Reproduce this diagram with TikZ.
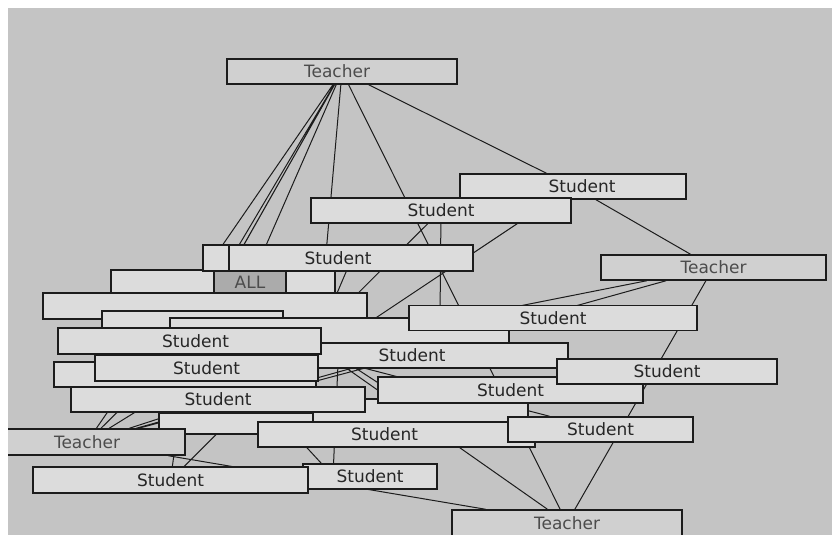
\documentclass[tikz,border=0pt]{standalone}
\usepackage{fontspec}
\setmainfont{DejaVu Sans}
\usetikzlibrary{backgrounds}

\definecolor{canvas}{HTML}{C4C4C4}
\definecolor{pale}{HTML}{DCDCDC}
\definecolor{dim}{HTML}{D0D0D0}
\definecolor{grpfill}{HTML}{ABABAB}
\definecolor{ink}{HTML}{1C1C1C}

\tikzset{
  box/.style={draw=ink,line width=1.5pt,fill=pale,inner sep=0pt,
    font=\fontsize{17}{20}\selectfont,text=black!85},
  dims/.style 2 args={minimum width=#1pt,minimum height=#2pt},
  student/.style={box},
  blank/.style={box},
  teacher/.style={box,fill=dim,text=black!70},
  group/.style={box,fill=grpfill,text=black!70},
  link/.style={ink,line width=1pt}
}

\begin{document}
\begin{tikzpicture}[x=1pt,y=-1pt]
\useasboundingbox (0,0) rectangle (832,535);
\clip (8,8) rectangle (832,535);

% boxes, back to front
\node[teacher,dims={230}{25}] (t1) at (342,71.5) {Teacher\hspace*{10pt}};
\node[student,dims={226}{25}] (s2) at (573,186.5) {\hspace*{18pt}Student};
\node[student,dims={260}{25}] (s3) at (441,210.5) {Student};
\node[teacher,dims={225}{25}] (tr) at (713.5,267.5) {Teacher};
\node[blank,dims={224}{23}] (b6) at (223,281.5) {};
\node[group,dims={72}{21}] (all) at (250,282) {ALL};
\node[student,dims={270}{26}] (s5) at (338,258) {Student};
\node[blank,dims={26}{26}] (b4) at (216,258) {};
\node[blank,dims={324}{26}] (b9) at (205,306) {};
\node[blank,dims={181}{25}] (b10) at (192.5,323.5) {};
\node[blank,dims={339}{25}] (b11) at (339.5,330.5) {};
\node[student,dims={288}{25}] (s12) at (553,318) {Student};
\node[student,dims={312}{25}] (s14) at (412,355.5) {Student};
\node[student,dims={263}{26}] (s13) at (189.5,341) {\hspace*{12pt}Student};
\node[blank,dims={262}{25}] (b15) at (185,374.5) {};
\node[student,dims={223}{26}] (s16) at (206.5,368) {Student};
\node[blank,dims={215}{23}] (b21) at (420.5,410.5) {};
\node[student,dims={294}{25}] (s19) at (218,399.5) {Student};
\node[student,dims={265}{26}] (s18) at (510.5,390) {Student};
\node[student,dims={220}{25}] (s17) at (667,371.5) {Student};
\node[blank,dims={154}{21}] (b20) at (236,423.5) {};
\node[teacher,dims={196}{26}] (tl) at (87,442) {Teacher};
\node[student,dims={277}{25}] (s23) at (396.5,434.5) {Student\hspace*{24pt}};
\node[student,dims={185}{25}] (s24) at (600.5,429.5) {Student};
\node[student,dims={134}{25}] (s26) at (370,476.5) {Student};
\node[student,dims={275}{26}] (s25) at (170.5,480) {Student};
\node[teacher,dims={230}{26}] (tb) at (567,523) {Teacher};

% hidden ends
\coordinate (t1end) at (318,345);
\coordinate (s2end) at (215,425);
\coordinate (s3end) at (440,318);
\coordinate (s5a) at (352,258);
\coordinate (s5b) at (306,366);
\coordinate (hub) at (333,476);

\begin{scope}[on background layer]
\clip (8,8) rectangle (832,535);
\fill[canvas] (8,8) rectangle (832,535);
\draw[link]
  (t1) -- (s2)
  (t1) -- (tb)
  (t1) -- (tl)
  (t1) -- (b6)
  (t1) -- (s13)
  (t1) -- (b10)
  (t1) -- (all)
  (t1) -- (t1end)
  (s2) -- (tr)
  (s2) -- (s2end)
  (s3) -- (s25)
  (s3) -- (s3end)
  (s5a) -- (s5b)
  (tr) -- (s16)
  (tr) -- (tl)
  (tr) -- (tb)
  (tl) -- (tb)
  (tl) -- (s16)
  (tl) -- (s19)
  (tl) -- (s12)
  (tl) -- (s13)
  (tl) -- (all)
  (b6) -- (tb)
  (b6) -- (b21)
  (b10) -- (s24)
  (b10) -- (hub)
  (b11) -- (hub)
  (s13) -- (s25);
\end{scope}
\end{tikzpicture}
\end{document}
